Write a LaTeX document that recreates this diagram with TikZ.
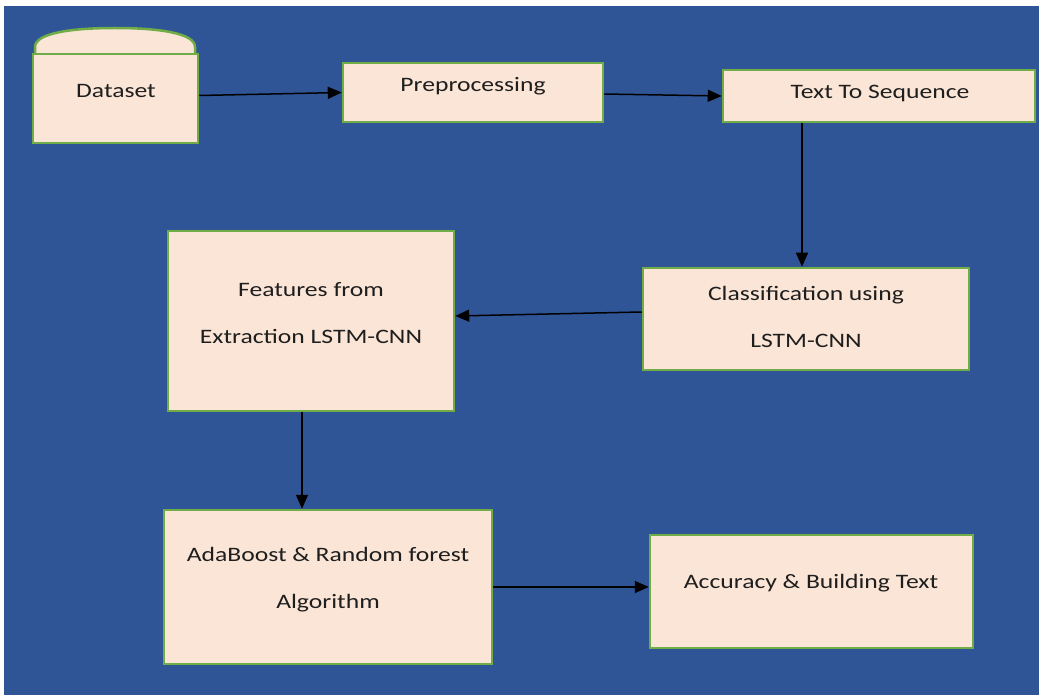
\documentclass[tikz,border=0pt]{standalone}
\usepackage{fontspec}
\setmainfont{Carlito}[FakeStretch=1.25]
\usetikzlibrary{arrows.meta,calc}
\definecolor{bg}{HTML}{2F5597}
\definecolor{peach}{HTML}{FBE5D6}
\definecolor{grn}{HTML}{70AD47}
\definecolor{txt}{HTML}{1E1E1E}
\begin{document}
\begin{tikzpicture}[x=1pt,y=-1pt,
 box/.style={draw=grn, fill=peach, line width=2.5pt, inner sep=0pt},
 lbl/.style={text=txt, font=\fontsize{20.5}{47}\selectfont, align=center, inner sep=0pt},
 arr/.style={draw=black, line width=1.5pt, -{Triangle[length=14pt,width=12pt]}}]
\useasboundingbox[fill=white] (0,0) rectangle (1039,695);
\fill[bg] (4,6) rectangle (1039,695);
% cap of dataset
\path[box] (35,56) -- (35,47) .. controls (35,33) and (72,28) .. (115,28) .. controls (158,28) and (195,33) .. (195,47) -- (195,56) -- cycle;
\node[box, minimum width=165pt, minimum height=89pt] (ds) at (115.5,98.5) {};
\node[box, minimum width=260pt, minimum height=59pt] (pre) at (473,92.5) {};
\node[box, minimum width=312pt, minimum height=52pt] (tts) at (879,96) {};
\node[box, minimum width=326pt, minimum height=102pt] (cls) at (806,319) {};
\node[box, minimum width=286pt, minimum height=180pt] (feat) at (311,321) {};
\node[box, minimum width=328pt, minimum height=154pt] (ada) at (328,587) {};
\node[box, minimum width=323pt, minimum height=113pt] (acc) at (811.5,591.5) {};
\node[lbl] (tds) at (116,91) {Dataset};
\node[lbl] (tpre) at (473,86) {Preprocessing};
\node[lbl] (ttts) at (880,94) {Text To Sequence};
\node[lbl] (tcls) at (806,316.5) {Classification using\\LSTM-CNN};
\node[lbl] (tfeat) at (311,313.5) {Features from\\Extraction LSTM-CNN};
\node[lbl] (tada) at (328,580) {AdaBoost \& Random forest\\Algorithm};
\node[lbl] (tacc) at (811,583) {Accuracy \& Building Text};
\draw[arr] ([yshift=3pt]ds.east) -- (pre.west);
\draw[arr] ([yshift=-1.5pt]pre.east) -- (tts.west);
\draw[arr] ([xshift=-4pt]cls.north |- tts.south) -- ([xshift=-4pt]cls.north);
\draw[arr] ([yshift=7pt]cls.west) -- ([yshift=5pt]feat.east);
\draw[arr] ([xshift=-9pt]feat.south) -- ([xshift=-9pt]feat.south |- ada.north);
\draw[arr] (ada.east) -- (ada.east -| acc.west);
\end{tikzpicture}
\end{document}
